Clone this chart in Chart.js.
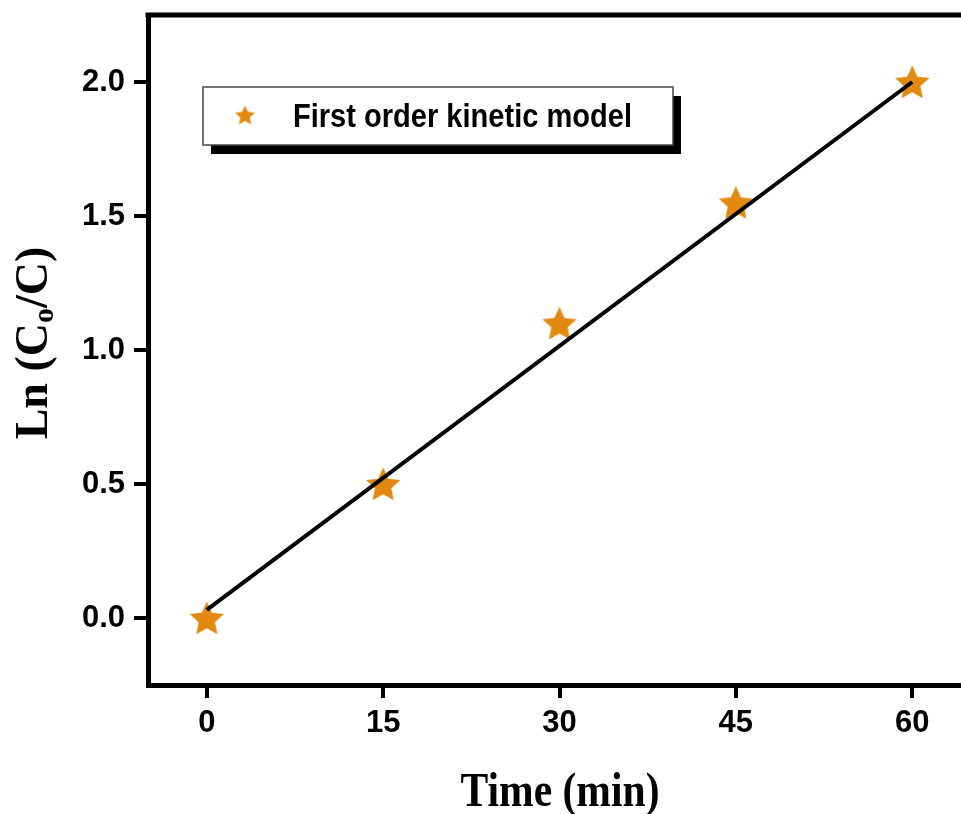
<!DOCTYPE html>
<html>
<head>
<meta charset="utf-8">
<script src="https://cdn.jsdelivr.net/npm/chart.js@4/dist/chart.umd.min.js"></script>
<style>
  html, body { margin: 0; padding: 0; background: #fff; overflow: hidden; }
  #wrap { width: 980px; height: 814px; }
</style>
</head>
<body>
<div id="wrap"><canvas id="c" width="980" height="814"></canvas></div>
<script>
// ---- data ----
const timeMin = [0, 15, 30, 45, 60];
const lnC0C = [0.0, 0.5, 1.1, 1.55, 2.0];
const fitX = [0, 60];
const fitY = [0.03, 2.0];
const xTickValues = [0, 15, 30, 45, 60];
const yTickValues = [0.0, 0.5, 1.0, 1.5, 2.0];
const seriesLabel = 'First order kinetic model';
const xTitle = 'Time (min)';
const yTitleParts = ['Ln (C', 'o', '/C)'];

const ORANGE = '#E3890F';

function makeStar(r, color) {
  const s = Math.ceil(r * 2 + 2);
  const c = document.createElement('canvas');
  c.width = s; c.height = s;
  const ctx = c.getContext('2d');
  ctx.translate(s / 2, s / 2 + r * 0.09);
  ctx.beginPath();
  for (let i = 0; i < 10; i++) {
    const rad = i % 2 ? r * 0.48 : r;
    const a = -Math.PI / 2 + i * Math.PI / 5;
    ctx.lineTo(rad * Math.cos(a), rad * Math.sin(a));
  }
  ctx.closePath();
  ctx.fillStyle = color;
  ctx.fill();
  return c;
}
const bigStar = makeStar(18, ORANGE);
const smallStar = makeStar(10.5, ORANGE);

const frameAndText = {
  id: 'frameAndText',
  afterDraw(chart) {
    const ctx = chart.ctx;
    const a = chart.chartArea;
    ctx.save();
    // top frame line running out of the window on the right
    ctx.strokeStyle = '#000';
    ctx.lineWidth = 5;
    ctx.beginPath();
    ctx.moveTo(a.left - 2.5, a.top);
    ctx.lineTo(chart.width, a.top);
    ctx.stroke();

    // legend box with shadow
    const bx = a.left + 55, by = a.top + 72, bw = 470, bh = 58;
    ctx.fillStyle = '#000';
    ctx.fillRect(bx + 8, by + 9, bw, bh);
    ctx.fillStyle = '#fff';
    ctx.fillRect(bx, by, bw, bh);
    ctx.strokeStyle = '#444';
    ctx.lineWidth = 1.5;
    ctx.strokeRect(bx, by, bw, bh);
    ctx.drawImage(smallStar, bx + 42 - smallStar.width / 2, by + 28 - smallStar.height / 2);
    ctx.fillStyle = '#000';
    ctx.font = 'bold 33px "Liberation Sans", Arial, sans-serif';
    ctx.textBaseline = 'alphabetic';
    ctx.textAlign = 'left';
    let w = ctx.measureText(seriesLabel).width;
    ctx.save();
    ctx.translate(bx + 90, by + 40);
    ctx.scale(339 / w, 1);
    ctx.fillText(seriesLabel, 0, 0);
    ctx.restore();

    // x title
    ctx.font = 'bold 48px "Liberation Serif", "Times New Roman", serif';
    w = ctx.measureText(xTitle).width;
    ctx.save();
    ctx.translate(560, 806);
    ctx.scale(199 / w, 1);
    ctx.textAlign = 'center';
    ctx.fillText(xTitle, 0, 0);
    ctx.restore();

    // y title with subscript
    const f1 = 'bold 46px "Liberation Serif", "Times New Roman", serif';
    const f2 = 'bold 30px "Liberation Serif", "Times New Roman", serif';
    ctx.font = f1; const w1 = ctx.measureText(yTitleParts[0]).width;
    const w3 = ctx.measureText(yTitleParts[2]).width;
    ctx.font = f2; const w2 = ctx.measureText(yTitleParts[1]).width;
    const total = w1 + w2 + w3;
    ctx.save();
    ctx.translate(47, 343);
    ctx.rotate(-Math.PI / 2);
    ctx.textAlign = 'left';
    let x0 = -total / 2;
    ctx.font = f1; ctx.fillText(yTitleParts[0], x0, 0);
    ctx.font = f2; ctx.fillText(yTitleParts[1], x0 + w1, 6);
    ctx.font = f1; ctx.fillText(yTitleParts[2], x0 + w1 + w2, 0);
    ctx.restore();

    ctx.restore();
  }
};

const tickFont = { family: '"Liberation Sans", Arial, sans-serif', size: 31, weight: 'bold' };

new Chart(document.getElementById('c'), {
  type: 'scatter',
  data: {
    datasets: [
      {
        type: 'line',
        label: 'fit',
        data: fitX.map((x, i) => ({ x, y: fitY[i] })),
        borderColor: '#000',
        borderWidth: 4,
        pointRadius: 0,
        fill: false,
        order: 0
      },
      {
        label: seriesLabel,
        data: timeMin.map((x, i) => ({ x, y: lnC0C[i] })),
        pointStyle: bigStar,
        pointRadius: 17,
        backgroundColor: ORANGE,
        borderColor: ORANGE,
        order: 1
      }
    ]
  },
  options: {
    responsive: false,
    animation: false,
    layout: { autoPadding: false, padding: { top: 15, right: 9, left: 0, bottom: 0 } },
    plugins: { legend: { display: false }, tooltip: { enabled: false } },
    scales: {
      x: {
        type: 'linear',
        min: -5, max: 65,
        afterFit: s => { s.height = 129; s.paddingLeft = 0; s.paddingRight = 0; },
        afterBuildTicks: s => { s.ticks = xTickValues.map(v => ({ value: v })); },
        border: { display: true, color: '#000', width: 5 },
        grid: { drawOnChartArea: false, drawTicks: true, tickLength: 13, lineWidth: 4, color: '#000' },
        ticks: { font: tickFont, color: '#000', padding: 7, maxRotation: 0 }
      },
      y: {
        type: 'linear',
        min: -0.25, max: 2.25,
        afterFit: s => { s.width = 148; s.paddingTop = 0; s.paddingBottom = 0; },
        afterBuildTicks: s => { s.ticks = yTickValues.map(v => ({ value: v })); },
        border: { display: true, color: '#000', width: 5 },
        grid: { drawOnChartArea: false, drawTicks: true, tickLength: 14, lineWidth: 4, color: '#000' },
        ticks: { font: tickFont, color: '#000', padding: 9, callback: v => Number(v).toFixed(1) }
      }
    }
  },
  plugins: [frameAndText]
});
</script>
</body>
</html>
